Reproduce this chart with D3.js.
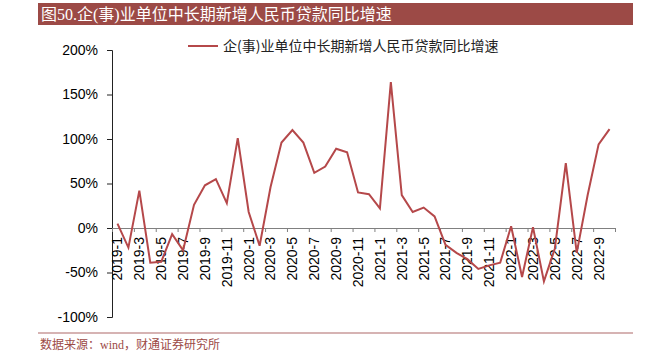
<!DOCTYPE html>
<html>
<head>
<meta charset="utf-8">
<script src="https://cdn.jsdelivr.net/npm/d3@7"></script>
<style>
  body { margin: 0; background: #fff; }
  svg { display: block; }
  .tick text { font-family: "Liberation Sans", Arial, sans-serif; font-size: 14px; fill: #000; }
</style>
</head>
<body>
<div id="chart"></div>
<script>
// monthly data, 2019-1 .. 2022-10
let years = [2019, 2020, 2021, 2022];
let months = [];
years.forEach(function(y){
    let last = y === 2022 ? 10 : 12;
    for(let m = 1; m <= last; m++) months.push(y + "-" + m);
});

let growth = [
    5, -22, 42, -39, -38, -7, -25, 26, 48, 55, 28, 101,
    18, -20, 46, 96, 110, 96, 62, 69, 89, 85, 40, 38,
    22, 164, 37, 18, 23, 13, -19, -28, -35, -46, -42, -39,
    2, -55, 1, -60, -23, 73, -28, 37, 94, 111
];

let yTicks = [-100, -50, 0, 50, 100, 150, 200];
let titleText = "图50.企(事)业单位中长期新增人民币贷款同比增速";
let seriesName = "企(事)业单位中长期新增人民币贷款同比增速";
let sourceText = "数据来源：wind，财通证券研究所";

let width = 660, height = 354;
let plotLeft = 112, plotRight = 615, plotTop = 50, plotBottom = 317;
let lineColor = "#b5484a";
let brand = "#9c4a46";

let svg = d3.select("#chart").append("svg")
    .attr("width", width)
    .attr("height", height);

// title bar
svg.append("rect")
    .attr("x", 38).attr("y", 3)
    .attr("width", 595).attr("height", 22)
    .attr("fill", brand);
svg.append("text")
    .attr("x", 41).attr("y", 20)
    .attr("fill", "#fff")
    .style("font-family", "'Liberation Serif', 'Noto Sans CJK SC', serif")
    .style("font-size", "16px")
    .text(titleText);

let yScale = d3.scaleLinear()
    .domain([-100, 200])
    .range([plotBottom, plotTop]);

let xIdx = d3.scaleLinear()
    .domain([0, months.length])
    .range([plotLeft, plotRight]);

let xBand = d3.scaleBand()
    .domain(months)
    .range([plotLeft, plotRight]);

// y axis
let yAxis = svg.append("g")
    .attr("transform", "translate(" + plotLeft + ",0)")
    .call(d3.axisLeft(yScale)
        .tickValues(yTicks)
        .tickSize(5)
        .tickPadding(9)
        .tickFormat(function(d){ return d + "%"; }));
yAxis.select(".domain").attr("stroke", "#222");
yAxis.selectAll(".tick line").attr("stroke", "#222");

// x axis boundary ticks
let boundaries = d3.range(0, months.length + 1, 2);
let xAxis = svg.append("g")
    .attr("transform", "translate(0," + yScale(0) + ")")
    .call(d3.axisBottom(xIdx)
        .tickValues(boundaries)
        .tickSize(4)
        .tickSizeOuter(0)
        .tickFormat(""));
xAxis.select(".domain").attr("stroke", "#808080");
xAxis.selectAll(".tick line").attr("stroke", "#808080");

// x labels
let labelAxis = svg.append("g")
    .attr("transform", "translate(0," + yScale(0) + ")")
    .call(d3.axisBottom(xBand)
        .tickValues(months.filter(function(d, i){ return i % 2 === 0; }))
        .tickSize(0));
labelAxis.select(".domain").remove();
labelAxis.selectAll(".tick text")
    .attr("transform", "rotate(-90)")
    .attr("x", -9)
    .attr("y", 0)
    .attr("dy", "0.35em")
    .style("text-anchor", "end");

// series line
let line = d3.line()
    .x(function(d, i){ return xBand(months[i]) + xBand.bandwidth() / 2; })
    .y(function(d){ return yScale(d); });

svg.append("path")
    .datum(growth)
    .attr("d", line)
    .attr("fill", "none")
    .attr("stroke", lineColor)
    .attr("stroke-width", 2);

// legend
svg.append("line")
    .attr("x1", 188).attr("x2", 218)
    .attr("y1", 46).attr("y2", 46)
    .attr("stroke", lineColor)
    .attr("stroke-width", 2);
svg.append("text")
    .attr("x", 223).attr("y", 51)
    .attr("fill", "#222")
    .style("font-family", "'Noto Sans CJK SC', sans-serif")
    .style("font-size", "14px")
    .text(seriesName);

// footer
svg.append("line")
    .attr("x1", 38).attr("x2", 633)
    .attr("y1", 333).attr("y2", 333)
    .attr("stroke", "#c89a9a")
    .attr("stroke-width", 1.5);
svg.append("text")
    .attr("x", 40).attr("y", 349)
    .attr("fill", brand)
    .style("font-family", "'Liberation Serif', 'Noto Sans CJK SC', serif")
    .style("font-size", "12px")
    .text(sourceText);
</script>
</body>
</html>
